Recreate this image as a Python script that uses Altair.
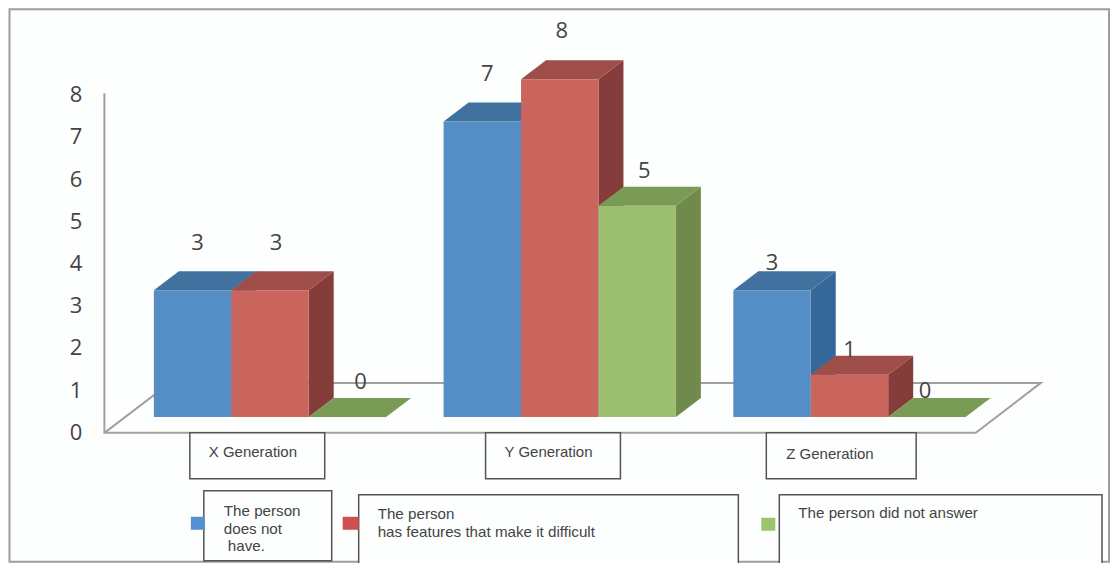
import altair as alt
import pandas as pd

# ---- data ----
generations = ["X Generation", "Y Generation", "Z Generation"]
series = ["The person does not have.", "The person has features that make it difficult", "The person did not answer"]
does_not_have = [3, 7, 3]
has_features = [3, 8, 1]
did_not_answer = [0, 5, 0]
tick_labels = [0, 1, 2, 3, 4, 5, 6, 7, 8]

# ---- layout / style (picture pixels) ----
W, H = 1102, 555
ORIGIN = 9
BASE_PX, UNIT_PX = 417.0, 42.25
GROUP_LEFT = [154, 444, 734]
BAR_W = 77.5
DEPTH_X, DEPTH_Y = 25, 19
FONT = "Liberation Sans"
NUM_FONT = "Open Sans"
INK = "#444444"
FRONT = ["#558ec4", "#c9655d", "#9bbf6e"]
TOP = ["#41719f", "#9e4d48", "#7a9b55"]
SIDE = ["#37689a", "#853d3b", "#6f8a4c"]
SWATCH = ["#5590cf", "#cf4f4f", "#9bc46c"]
# distance in px from a bar's front-top edge to its number
LABEL_LIFT = [[48, 48, 36], [48, 49, 36], [28, 26, 27]]
LABEL_SHIFT = [[5, 6, 13], [5, 2, 7], [0, 0, -2]]


def val(py):
    return (BASE_PX - py) / UNIT_PX


x_scale = alt.Scale(domain=[ORIGIN, ORIGIN + W], nice=False, zero=False)
y_scale = alt.Scale(domain=[val(ORIGIN + H), val(ORIGIN)], nice=False, zero=False)
X = lambda f="x": alt.X(f"{f}:Q", scale=x_scale, axis=None)
Y = lambda f="y": alt.Y(f"{f}:Q", scale=y_scale, axis=None)


def box_layer(rows, fill="#fdfefe", stroke="#555555", sw=1.5):
    df = pd.DataFrame(rows, columns=["x", "x2", "py", "py2"])
    df["y"] = df.py.map(val)
    df["y2"] = df.py2.map(val)
    return alt.Chart(df).mark_rect(fill=fill, stroke=stroke, strokeWidth=sw).encode(
        x=X(), x2="x2:Q", y=Y(), y2="y2:Q")


def text_layer(rows, size, font=FONT, align="left", color=INK):
    df = pd.DataFrame(rows, columns=["x", "py", "t"])
    df["y"] = df.py.map(val)
    return alt.Chart(df).mark_text(font=font, fontSize=size, align=align, baseline="middle", color=color).encode(
        x=X(), y=Y(), text="t:N")


layers = [box_layer([(9.5, 1110, 9, 562)], stroke="#a39c98", sw=2)]

# floor and wall
frame = pd.DataFrame({
    "x": [104.5, 104.5, 976.7, 1041.7, 170, 104.5],
    "y": [val(p) for p in [93, 433, 433, 383, 383, 433]],
    "o": range(6),
})
layers.append(alt.Chart(frame).mark_line(color="#a89e99", strokeWidth=2).encode(x=X(), y=Y(), order="o:Q"))

values = [does_not_have, has_features, did_not_answer]
value_rows = []
for g in range(3):
    for s in range(3):
        v = values[s][g]
        x0 = GROUP_LEFT[g] + s * BAR_W
        cx = x0 + BAR_W / 2 + LABEL_SHIFT[g][s]
        value_rows.append((cx, BASE_PX - v * UNIT_PX - LABEL_LIFT[g][s] + 1, str(v)))

# bars, one series at a time so that later series cover earlier ones
for s in range(3):
    top, side, front = [], [], []
    for g in range(3):
        v = values[s][g]
        x0 = GROUP_LEFT[g] + s * BAR_W
        x1 = x0 + BAR_W
        d = DEPTH_Y / UNIT_PX
        top += [dict(bar=g, x=x0, x2=x1, y=v), dict(bar=g, x=x0 + DEPTH_X, x2=x1 + DEPTH_X, y=v + d)]
        side += [dict(bar=g, x=x1, y=v, y2=0), dict(bar=g, x=x1 + DEPTH_X, y=v + d, y2=d)]
        front.append(dict(x=x0, x2=x1, y=v, y2=0))
    layers.append(alt.Chart(pd.DataFrame(side)).mark_area(color=SIDE[s]).encode(
        x=X(), y=Y(), y2="y2:Q", detail="bar:N"))
    layers.append(alt.Chart(pd.DataFrame(top)).mark_area(color=TOP[s], orient="horizontal").encode(
        x=X(), x2="x2:Q", y=Y(), detail="bar:N"))
    layers.append(alt.Chart(pd.DataFrame(front)).mark_rect(color=FRONT[s]).encode(
        x=X(), x2="x2:Q", y=Y(), y2="y2:Q"))

layers.append(text_layer(value_rows, 22, font=NUM_FONT, align="center"))

# value axis labels
layers.append(text_layer([(76, 433 - t * UNIT_PX, str(t)) for t in tick_labels], 22, font=NUM_FONT, align="center"))

# category boxes
layers.append(box_layer([(190, 325, 433, 479), (486, 621, 433, 479), (767, 917, 433, 479)]))
layers.append(text_layer([(209, 452, generations[0]), (505, 452, generations[1]), (787, 454, generations[2])], 15))

# legend
layers.append(box_layer([(204, 332, 491, 561), (359, 739, 495, 566), (780, 1103, 495, 566)]))
for (a, b, p, p2), c in zip([(191, 205, 517, 530), (343, 359, 517, 530), (762, 776, 518, 531)], SWATCH):
    layers.append(box_layer([(a, b, p, p2)], fill=c, stroke=c, sw=0))
layers.append(text_layer([
    (224, 511, "The person"), (224, 529, "does not"), (228, 546, "have."),
    (378, 514, "The person"), (378, 532, "has features that make it difficult"),
    (799, 513, series[2]),
], 15.2))

chart = alt.layer(*layers).properties(width=W, height=H, padding=0).configure_view(stroke=None)
chart.save("out.html", embed_options={"renderer": "svg", "actions": False})
